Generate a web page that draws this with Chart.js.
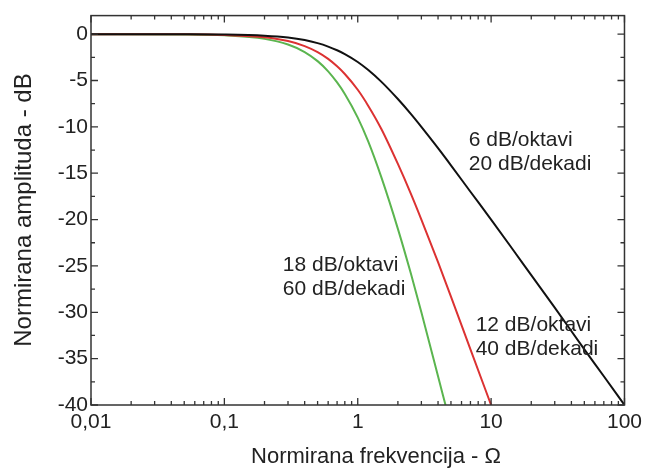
<!DOCTYPE html>
<html>
<head>
<meta charset="utf-8">
<title>Normirana amplituda</title>
<script src="https://cdn.jsdelivr.net/npm/chart.js@4"></script>
<style>
  html, body { margin: 0; padding: 0; background: #fff; }
  #wrap { width: 647px; height: 468px; }
</style>
</head>
<body>
<div id="wrap"><canvas id="ampChart" width="647" height="468"></canvas></div>
<script>
// frequency points and amplitudes (dB) for 1, 2 and 3 cascaded sections
const omega1 = [0.01, 0.05, 0.1, 0.2, 0.3, 0.4, 0.5, 0.6, 0.7, 0.8, 1, 1.2, 1.5, 2, 2.5, 3, 4, 5, 7, 10, 15, 20, 30, 50, 70, 100];
const db1 = [0, -0.01, -0.04, -0.17, -0.37, -0.64, -0.97, -1.34, -1.74, -2.15, -3.0, -3.87, -5.12, -7.0, -8.6, -10.0, -12.3, -14.15, -17.0, -20.0, -23.5, -26.0, -29.5, -34.0, -36.9, -40.0];

const omega2 = [0.01, 0.05, 0.1, 0.2, 0.3, 0.4, 0.5, 0.6, 0.7, 0.8, 1, 1.2, 1.5, 2, 2.5, 3, 4, 5, 7, 10];
const db2 = [0, -0.02, -0.09, -0.34, -0.75, -1.29, -1.94, -2.67, -3.47, -4.3, -6.0, -7.74, -10.2, -14.0, -17.2, -20.0, -24.6, -28.3, -34.0, -40.0];

const omega3 = [0.01, 0.05, 0.1, 0.2, 0.3, 0.4, 0.5, 0.6, 0.7, 0.8, 1, 1.2, 1.5, 2, 2.5, 3, 4, 4.55];
const db3 = [0, -0.03, -0.13, -0.51, -1.12, -1.93, -2.91, -4.01, -5.21, -6.45, -9.0, -11.6, -15.4, -21.0, -25.8, -30.0, -36.9, -40.0];

const xTicks = [0.01, 0.1, 1, 10, 100];
const xTickLabels = ['0,01', '0,1', '1', '10', '100'];
const yTicks = [-40, -35, -30, -25, -20, -15, -10, -5, 0];

// slope notes: [line 1, line 2, omega, dB of first line]
const notes = [
  ['6 dB/oktavi', '20 dB/dekadi', 6.8, -11.4],
  ['18 dB/oktavi', '60 dB/dekadi', 0.274, -24.9],
  ['12 dB/oktavi', '40 dB/dekadi', 7.66, -31.4]
];

const FONT = '"Liberation Sans", Arial, Helvetica, sans-serif';
const INK = '#222';

function toPoints(xs, ys) {
  return xs.map(function (x, i) { return { x: x, y: ys[i] }; });
}

// box with inward ticks on all four sides, titles and slope notes
const framePlugin = {
  id: 'frame',
  afterDatasetsDraw: function (chart) {
    const ctx = chart.ctx;
    const a = chart.chartArea;
    const xs = chart.scales.x, ys = chart.scales.y;
    ctx.save();
    ctx.strokeStyle = '#333';
    ctx.lineWidth = 1.5;
    ctx.strokeRect(a.left, a.top, a.right - a.left, a.bottom - a.top);

    ctx.lineWidth = 1.3;
    ctx.beginPath();
    for (let e = -2; e < 2; e++) {
      for (let m = 1; m <= 10; m++) {
        const v = m * Math.pow(10, e);
        const px = xs.getPixelForValue(v);
        const len = (m === 1 || m === 10) ? 7 : 4;
        ctx.moveTo(px, a.bottom); ctx.lineTo(px, a.bottom - len);
        ctx.moveTo(px, a.top); ctx.lineTo(px, a.top + len);
      }
    }
    for (let v = -40; v <= 0; v += 2.5) {
      const py = ys.getPixelForValue(v);
      const len = (v % 5 === 0) ? 7 : 4;
      ctx.moveTo(a.left, py); ctx.lineTo(a.left + len, py);
      ctx.moveTo(a.right, py); ctx.lineTo(a.right - len, py);
    }
    ctx.stroke();

    ctx.fillStyle = INK;
    ctx.textBaseline = 'middle';
    ctx.textAlign = 'left';
    ctx.font = '21px ' + FONT;
    notes.forEach(function (n) {
      const px = xs.getPixelForValue(n[2]);
      const py = ys.getPixelForValue(n[3]);
      ctx.fillText(n[0], px, py);
      ctx.fillText(n[1], px, py + 24);
    });

    // axis titles
    ctx.font = '22px ' + FONT;
    ctx.textAlign = 'center';
    ctx.textBaseline = 'alphabetic';
    ctx.fillText('Normirana frekvencija - \u03A9', 376, 463);

    ctx.font = '24px ' + FONT;
    ctx.translate(31, 210);
    ctx.rotate(-Math.PI / 2);
    ctx.fillText('Normirana amplituda - dB', 0, 0);
    ctx.restore();
  }
};

document.addEventListener('DOMContentLoaded', function () {
  const ctx = document.getElementById('ampChart').getContext('2d');
  new Chart(ctx, {
    type: 'line',
    data: {
      datasets: [
        { label: '1', data: toPoints(omega1, db1), borderColor: '#111111' },
        { label: '2', data: toPoints(omega2, db2), borderColor: '#dc3232' },
        { label: '3', data: toPoints(omega3, db3), borderColor: '#5bb54f' }
      ]
    },
    options: {
      responsive: false,
      animation: false,
      layout: { padding: { left: 0, right: 21, top: 13, bottom: 0 } },
      elements: {
        point: { radius: 0 },
        line: { borderWidth: 2, cubicInterpolationMode: 'monotone', fill: false }
      },
      plugins: { legend: { display: false }, tooltip: { enabled: false } },
      scales: {
        x: {
          type: 'logarithmic',
          min: 0.01,
          max: 100,
          grid: { display: false, drawTicks: false },
          border: { display: false },
          afterBuildTicks: function (s) { s.ticks = xTicks.map(function (v) { return { value: v }; }); },
          afterFit: function (s) { s.height = 63; },
          ticks: {
            autoSkip: false,
            maxRotation: 0,
            padding: 5,
            color: INK,
            font: { family: FONT, size: 21 },
            callback: function (v) { return xTickLabels[xTicks.indexOf(v)]; }
          }
        },
        y: {
          min: -40,
          max: 2,
          grid: { display: false, drawTicks: false },
          border: { display: false },
          afterBuildTicks: function (s) { s.ticks = yTicks.map(function (v) { return { value: v }; }); },
          afterFit: function (s) { s.width = 91; },
          ticks: {
            padding: 3,
            color: INK,
            font: { family: FONT, size: 21 }
          }
        }
      }
    },
    plugins: [framePlugin]
  });
});
</script>
</body>
</html>
